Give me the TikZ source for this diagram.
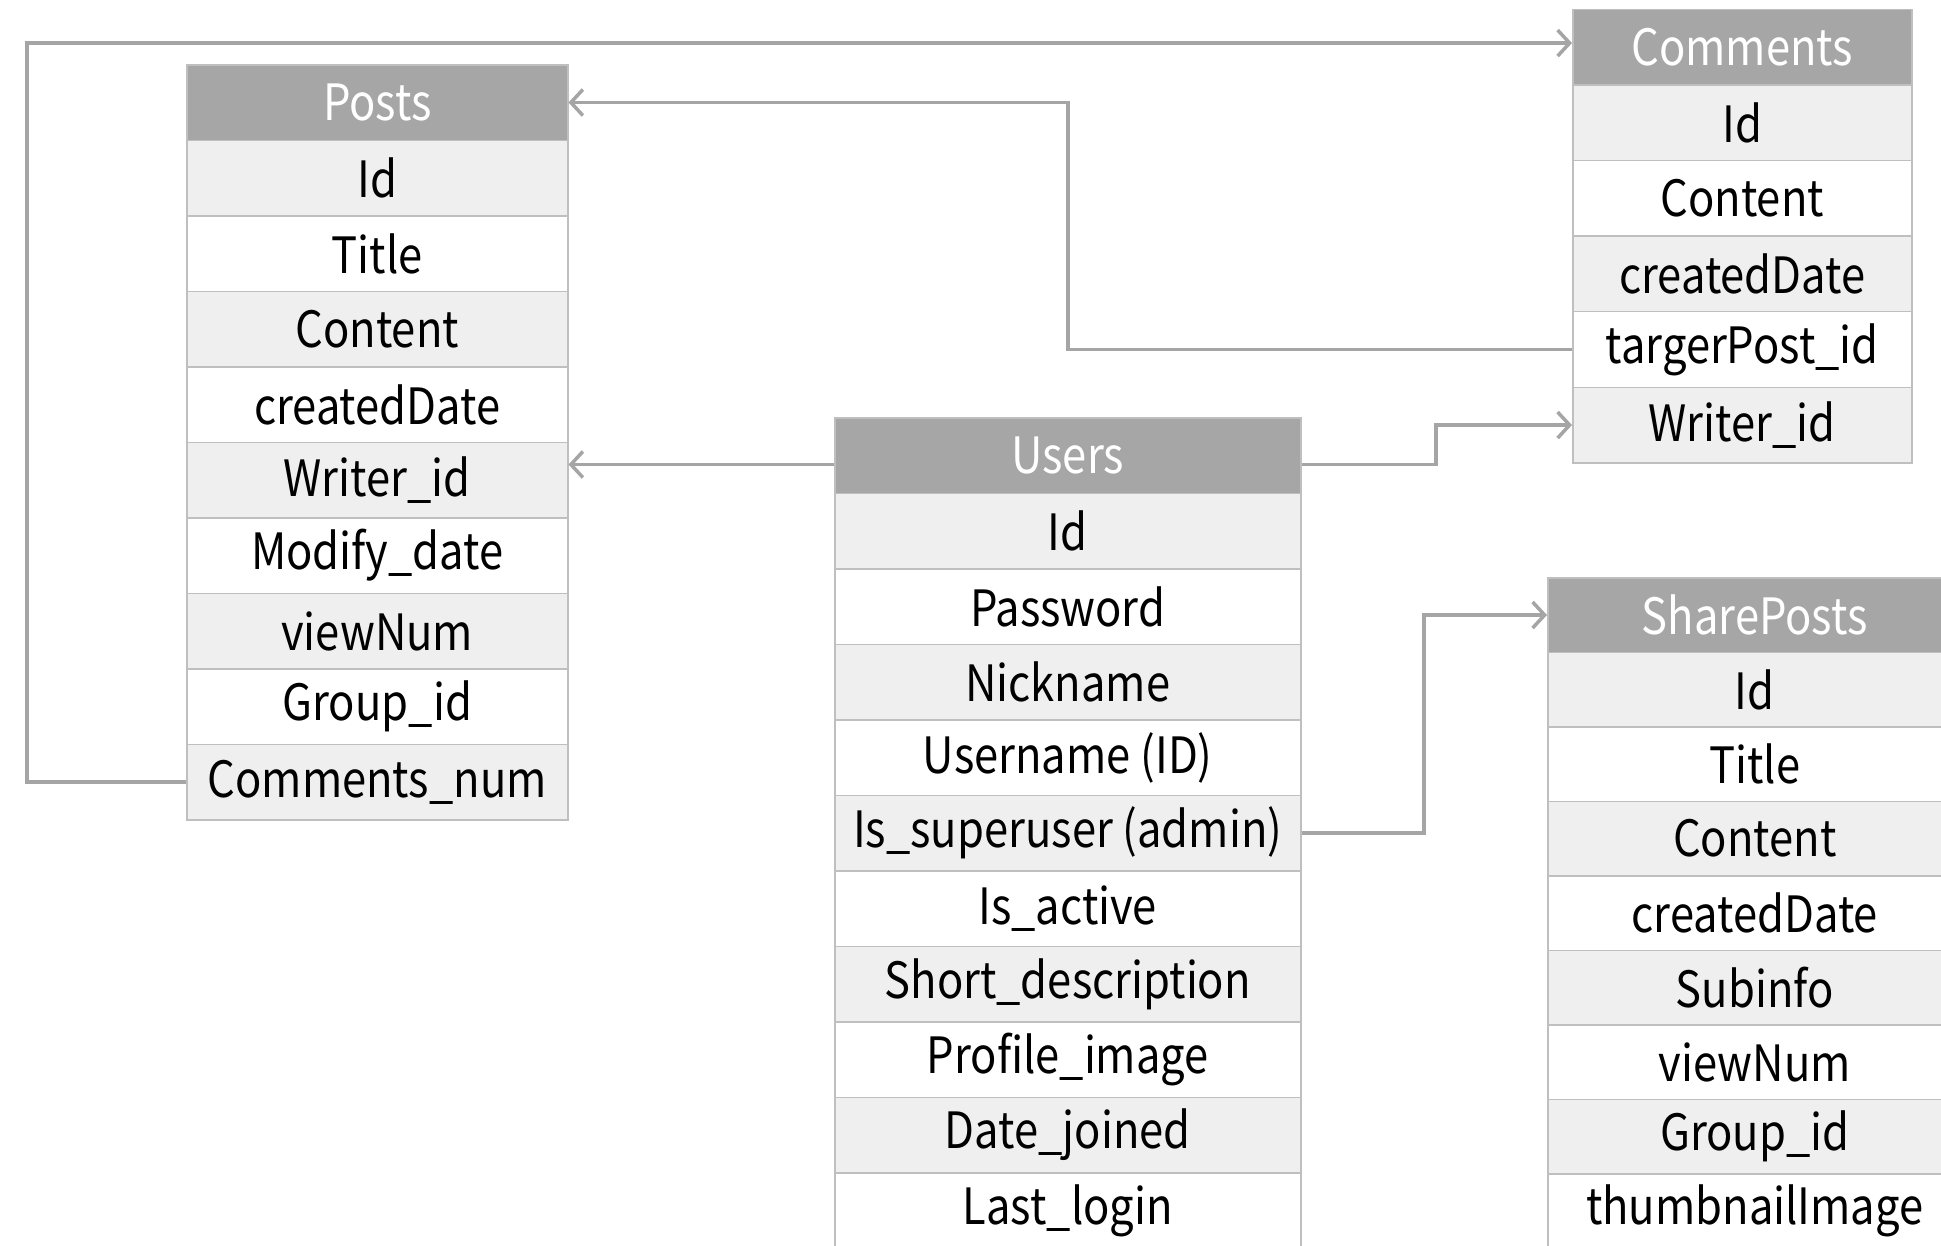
\documentclass[tikz,border=0pt]{standalone}
\usepackage{fontspec}
\usetikzlibrary{arrows.meta,calc}
\newfontfamily\erdfont[FakeStretch=0.87]{Noto Sans CJK KR}
\definecolor{headgray}{HTML}{A6A6A6}
\definecolor{rowgray}{HTML}{EFEFEF}
\definecolor{gridgray}{HTML}{BFBFBF}
\definecolor{linkgray}{HTML}{A5A5A5}
\tikzset{
  cell/.style={draw=gridgray, line width=1.5pt, inner sep=0pt, anchor=north west,
    font=\erdfont\fontsize{50}{56}\selectfont},
  headcell/.style={cell, fill=headgray, text=white},
  link/.style={draw=linkgray, line width=3.5pt, -{Straight Barb[length=12pt,width=26pt]}},
}
% table: name, left x, top y, width, row height, title, fields
\newcommand{\erdtable}[7]{%
  \node[headcell, minimum width=#4, minimum height=#5] (#1-h) at (#2,#3) {#6};
  \foreach \f [count=\i] in {#7} {
    \pgfmathtruncatemacro{\odd}{mod(\i,2)}
    \ifnum\odd=1 \def\rowfill{rowgray}\else\def\rowfill{white}\fi
    \node[cell, fill=\rowfill, minimum width=#4, minimum height=#5] (#1-\i) at (#2, #3+\i*#5) {\f};
  }
}
\begin{document}
\begin{tikzpicture}[x=1pt,y=-1pt]
  \useasboundingbox[fill=white] (0,0) rectangle (1941,1245);

  \erdtable{posts}{186}{64}{381}{75.5}{Posts}
    {Id,Title,Content,createdDate,Writer\_id,Modify\_date,viewNum,Group\_id,Comments\_num}
  \erdtable{comments}{1572}{8.5}{339}{75.6}{Comments}
    {Id,Content,createdDate,targerPost\_id,Writer\_id}
  \erdtable{users}{834}{417}{466}{75.5}{Users}
    {Id,Password,Nickname,Username (ID),Is\_superuser (admin),Is\_active,Short\_description,Profile\_image,Date\_joined,Last\_login}
  \erdtable{share}{1547}{577}{414}{74.5}{SharePosts}
    {Id,Title,Content,createdDate,Subinfo,viewNum,Group\_id,thumbnailImage}

  % bend points of the connectors
  \coordinate (loopL) at (27,0);
  \coordinate (tpBend) at (1068,0);
  \coordinate (cwBend) at (1436,0);
  \coordinate (spBend) at (1424,0);

  % Posts.Comments_num -> Comments
  \draw[link] (posts-9.west) -- (posts-9.west -| loopL)
    |- ([yshift=4pt]comments-h.west);
  % Comments.targerPost_id -> Posts
  \draw[link] (comments-4.west) -- (comments-4.west -| tpBend)
    |- (posts-h.east);
  % Users -> Posts.Writer_id
  \draw[link] ([yshift=-9pt]users-h.west) -- ([yshift=-9pt]users-h.west -| posts-5.east);
  % Users -> Comments.Writer_id
  \draw[link] ([yshift=-9pt]users-h.east) -- ([yshift=-9pt]users-h.east -| cwBend)
    |- (comments-5.west);
  % Users.Is_superuser -> SharePosts
  \draw[link] (users-5.east) -- (users-5.east -| spBend) |- (share-h.west);
\end{tikzpicture}
\end{document}
